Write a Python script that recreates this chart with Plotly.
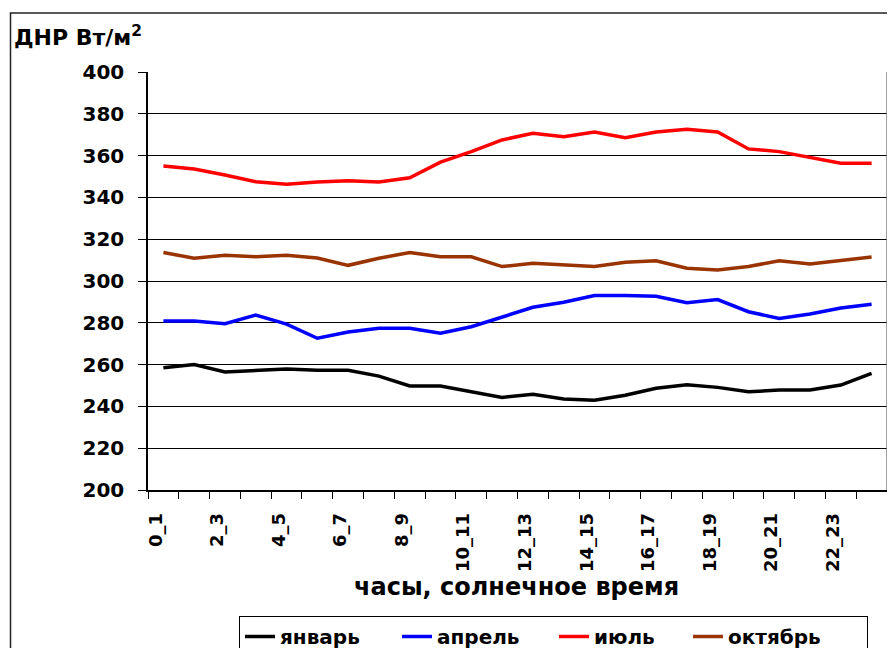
import plotly.graph_objects as go

hours = ["0_1", "1_2", "2_3", "3_4", "4_5", "5_6", "6_7", "7_8", "8_9", "9_10",
         "10_11", "11_12", "12_13", "13_14", "14_15", "15_16", "16_17", "17_18",
         "18_19", "19_20", "20_21", "21_22", "22_23", "23_24"]

january = [258.5, 260.0, 256.5, 257.3, 257.9, 257.3, 257.3, 254.5, 249.8, 249.8,
           247.0, 244.3, 245.8, 243.5, 242.9, 245.3, 248.7, 250.4, 249.1, 247.0,
           247.8, 247.8, 250.2, 255.8]
april = [280.9, 280.9, 279.6, 283.7, 279.4, 272.6, 275.6, 277.4, 277.4, 275.0,
         278.1, 282.8, 287.4, 289.8, 293.1, 293.1, 292.7, 289.6, 291.1, 285.3,
         282.1, 284.2, 287.1, 288.9]
july = [355.0, 353.6, 350.7, 347.5, 346.3, 347.4, 348.0, 347.4, 349.4, 356.9,
        361.9, 367.5, 370.7, 369.0, 371.3, 368.6, 371.3, 372.6, 371.3, 363.2,
        361.9, 359.2, 356.3, 356.3]
october = [313.6, 310.9, 312.3, 311.6, 312.3, 311.0, 307.5, 310.9, 313.6, 311.6,
           311.6, 306.9, 308.5, 307.7, 306.9, 309.0, 309.7, 306.1, 305.3, 306.9,
           309.7, 308.1, 310.0, 311.5]

series_names = ["январь", "апрель", "июль", "октябрь"]
series_values = [january, april, july, october]

# styles
series_colors = ["#000000", "#0000FF", "#FF0000", "#993300"]
legend_widths = [112, 112, 89, 134]

y_ticks = list(range(200, 401, 20))

FONT = "DejaVu Sans"
xpos = [i + 0.5 for i in range(len(hours))]

fig = go.Figure()
for name, vals, color, lw in zip(series_names, series_values, series_colors, legend_widths):
    fig.add_trace(go.Scatter(x=xpos, y=vals, mode="lines", name=name, legendwidth=lw,
                             line=dict(color=color, width=3.5)))

# page body has an 8px margin; target pixel coordinates are given in window pixels
OFF = 8
W, H = 895 - OFF, 648 - OFF
PL, PR, PT, PB = 148, 887, 72, 490          # plot area in window pixels
L, R, T, B = PL - OFF, (W + OFF) - PR, PT - OFF, (H + OFF) - PB
pw, ph = PR - PL, PB - PT


def px_x(px):
    return (px - PL) / pw


def px_y(py):
    return (PB - py) / ph


fig.update_layout(
    width=W, height=H,
    margin=dict(l=L, r=R, t=T, b=B, autoexpand=False),
    paper_bgcolor="white", plot_bgcolor="white",
    font=dict(family=FONT, color="black", size=19, weight="bold"),
    showlegend=True,
    legend=dict(orientation="h", x=px_x(239), y=px_y(616), xanchor="left", yanchor="top",
                bordercolor="black", borderwidth=1, bgcolor="white",
                font=dict(family=FONT, size=20, color="black", weight="bold"),
                tracegroupgap=0),
    xaxis=dict(range=[0, len(hours)], tickmode="array",
               tickvals=[i + 0.25 for i in range(0, len(hours), 2)],
               ticktext=hours[::2], tickangle=-90, ticks="", ticklabelstandoff=14,
               tickfont=dict(family=FONT, size=18, weight="bold"),
               showgrid=False, zeroline=False, showline=True, linecolor="black", linewidth=1.5,
               minor=dict(tickmode="array", tickvals=list(range(len(hours) + 1)),
                          ticks="outside", ticklen=7, tickcolor="black", tickwidth=1,
                          showgrid=False)),
    yaxis=dict(range=[200, 400], tickmode="array", tickvals=y_ticks,
               ticks="outside", ticklen=8, tickcolor="black", ticklabelstandoff=10,
               tickfont=dict(family=FONT, size=20, weight="bold"),
               showgrid=True, gridcolor="black", gridwidth=1, zeroline=False,
               showline=True, linecolor="black", linewidth=1.5),
    shapes=[
        dict(type="line", xref="paper", yref="paper", x0=1, x1=1, y0=0, y1=1,
             line=dict(color="#808080", width=1.5)),
        dict(type="rect", xref="paper", yref="paper", x0=px_x(10.5), x1=px_x(900),
             y0=px_y(660), y1=px_y(13), line=dict(color="#222222", width=1.5),
             layer="below"),
    ],
    annotations=[
        dict(text="ДНР Вт/м<sup>2</sup>", xref="paper", yref="paper", x=px_x(12), y=px_y(36),
             xanchor="left", yanchor="middle", showarrow=False,
             font=dict(family=FONT, size=22, weight="bold")),
        dict(text="часы, солнечное время", xref="paper", yref="paper", x=px_x(516), y=px_y(587),
             xanchor="center", yanchor="middle", showarrow=False,
             font=dict(family=FONT, size=24, weight="bold")),
    ],
)

fig.write_html("out.html")
